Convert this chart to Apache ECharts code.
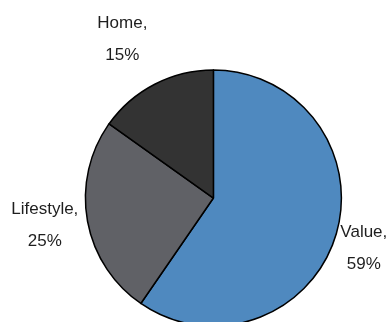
<!DOCTYPE html>
<html>
<head>
<meta charset="utf-8">
<script src="https://cdn.jsdelivr.net/npm/echarts@6/dist/echarts.min.js"></script>
<style>
  html, body { margin: 0; padding: 0; background: #fff; }
  #chart { width: 388px; height: 322px; }
</style>
</head>
<body>
<div id="chart"></div>
<script>
// 各类别及占比（%）
var categories = ['Value', 'Lifestyle', 'Home'];
var shares = [59, 25, 15];
var colors = ['#4f89bf', '#606166', '#333333'];

// 标签引导线长度，用来把标签摆到合适位置
var lineLen = [40, 30, 51];
var lineLen2 = [-51, -28, -32];

var myChart = echarts.init(document.getElementById('chart'));

var data = [];
for (var i = 0; i < categories.length; i++) {
    data.push({
        name: categories[i],
        value: shares[i],
        itemStyle: { color: colors[i] },
        labelLine: { show: false, length: lineLen[i], length2: lineLen2[i] }
    });
}

var option = {
    animation: false,
    series: [
        {
            type: 'pie',
            center: ['55%', '61.5%'],
            radius: 128,
            startAngle: 90,
            clockwise: true,
            avoidLabelOverlap: false,
            data: data,
            itemStyle: {
                borderColor: '#000',
                borderWidth: 1.5
            },
            label: {
                show: true,
                position: 'outside',
                width: 72,
                formatter: function (p) {
                    return '{n|' + p.name + ',}\n{n|' + p.value + '%}';
                },
                rich: {
                    n: {
                        width: 72,
                        align: 'center',
                        fontFamily: '"Liberation Sans", Arial, sans-serif',
                        fontSize: 17,
                        lineHeight: 32,
                        color: '#1e1e1e'
                    }
                }
            },
            labelLine: { show: false }
        }
    ]
};

myChart.setOption(option);
window.addEventListener('resize', function () {
    myChart.resize();
});
</script>
</body>
</html>
